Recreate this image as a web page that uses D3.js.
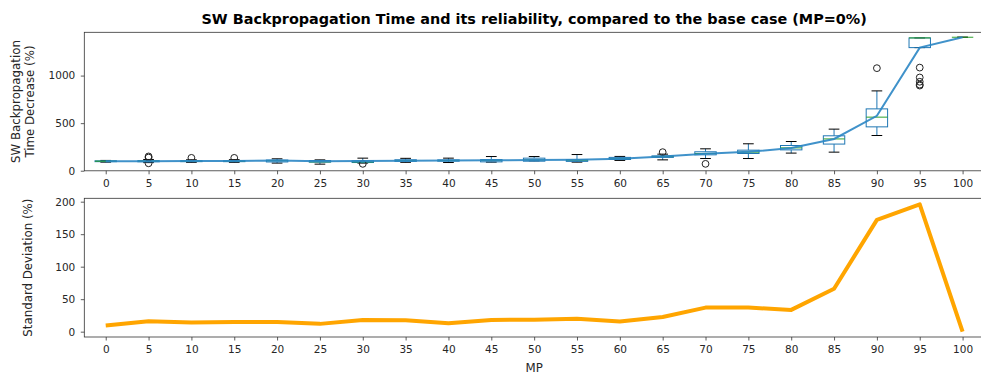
<!DOCTYPE html>
<html>
<head>
<meta charset="utf-8">
<script src="https://cdn.jsdelivr.net/npm/d3@7"></script>
<style>
  html, body { margin: 0; padding: 0; background: #fff; }
  svg { display: block; font-family: "DejaVu Sans", sans-serif; }
</style>
</head>
<body>
<svg id="chart" width="981" height="375"></svg>
<script>
// Missing-pixel percentage (MP) levels
const mp = [0, 5, 10, 15, 20, 25, 30, 35, 40, 45, 50, 55, 60, 65, 70, 75, 80, 85, 90, 95, 100];

// Box statistics of the time decrease (%) per MP level
const whiskerLow  = [90, 85, 88, 88, 80, 69, 80, 88, 86, 90, 104, 90, 108, 114, 128, 128, 185, 195, 370, 1294, 1403];
const q1          = [95, 94, 95, 95, 92, 90, 86, 98, 100, 93, 100, 98, 118, 140, 167, 181, 219, 280, 461, 1294, 1403];
const median      = [100, 100, 100, 100, 106, 93, 93, 107, 107, 107, 114, 110, 128, 149, 181, 195, 240, 334, 563, 1396, 1403];
const q3          = [104, 106, 105, 105, 112, 107, 104, 115, 114, 117, 132, 115, 140, 156, 199, 216, 265, 367, 650, 1396, 1403];
const whiskerHigh = [108, 118, 115, 116, 125, 114, 132, 130, 132, 149, 149, 170, 150, 174, 230, 283, 307, 437, 839, 1396, 1403];
const outliers    = [[], [150, 138, 78], [135], [135], [], [], [72], [], [], [], [], [], [], [195], [72], [], [], [], [1078], [1084, 980, 935, 905, 895], []];

// Mean time decrease (%) per MP level
const meanDecrease = [100, 100, 101, 102, 106, 99, 101, 105, 106, 110, 112, 115, 126, 150, 179, 198, 238, 334, 577, 1294, 1403];

// Standard deviation (%) per MP level
const stdDev = [9.5, 16, 14, 15, 15, 12, 18, 17.5, 13, 18, 18.5, 20, 15.5, 22.5, 37, 37, 33.5, 66, 172, 196, 0];

// Axis tick values
const topTicks = [0, 500, 1000];
const bottomTicks = [0, 50, 100, 150, 200];

const svg = d3.select("#chart");
const textColor = "#262626";
const spineColor = "#333";

const left = 84.3, right = 984;
const x = d3.scaleLinear().domain([0.5, mp.length + 0.5]).range([left, right]);
const step = x(2) - x(1);

const topPanel = { top: 32.3, bottom: 170.8 };
const botPanel = { top: 198.3, bottom: 337 };

const yTop = d3.scaleLinear().domain([-1, 1455]).range([topPanel.bottom, topPanel.top]);
const yBot = d3.scaleLinear().domain([-8.2, 205.2]).range([botPanel.bottom, botPanel.top]);

function styleAxis(g) {
  g.select(".domain").remove();
  g.selectAll(".tick line").attr("stroke", spineColor).attr("stroke-width", 0.8);
  g.selectAll(".tick text").attr("fill", textColor).attr("font-size", 10.5)
    .attr("font-family", "DejaVu Sans, sans-serif");
}

function drawFrame(panel) {
  svg.append("rect")
    .attr("x", left).attr("y", panel.top)
    .attr("width", right - left).attr("height", panel.bottom - panel.top)
    .attr("fill", "none").attr("stroke", spineColor).attr("stroke-width", 0.8);
}

function drawXAxis(panel) {
  const idx = mp.map((d, i) => i + 1);
  svg.append("g")
    .attr("transform", `translate(0,${panel.bottom})`)
    .call(d3.axisBottom(x).tickValues(idx).tickFormat(i => mp[i - 1]).tickSize(3.5).tickPadding(5))
    .call(styleAxis);
}

// ---------- Top panel: box plots with mean line ----------
svg.append("defs").append("clipPath").attr("id", "clipTop")
  .append("rect").attr("x", left).attr("y", topPanel.top)
  .attr("width", right - left).attr("height", topPanel.bottom - topPanel.top);

const boxW = step * 0.5;
const capW = boxW * 0.5;
const boxBlue = "#1f77b4";
const boxes = svg.append("g").attr("clip-path", "url(#clipTop)");

mp.forEach((m, i) => {
  const cx = x(i + 1);
  const g = boxes.append("g");
  // whiskers
  g.append("line").attr("x1", cx).attr("x2", cx)
    .attr("y1", yTop(q3[i])).attr("y2", yTop(whiskerHigh[i]))
    .attr("stroke", boxBlue).attr("stroke-width", 1);
  g.append("line").attr("x1", cx).attr("x2", cx)
    .attr("y1", yTop(q1[i])).attr("y2", yTop(whiskerLow[i]))
    .attr("stroke", boxBlue).attr("stroke-width", 1);
  // caps
  [whiskerHigh[i], whiskerLow[i]].forEach(v => {
    g.append("line").attr("x1", cx - capW / 2).attr("x2", cx + capW / 2)
      .attr("y1", yTop(v)).attr("y2", yTop(v))
      .attr("stroke", "#000").attr("stroke-width", 1);
  });
  // box
  g.append("rect")
    .attr("x", cx - boxW / 2).attr("y", yTop(q3[i]))
    .attr("width", boxW).attr("height", Math.max(0, yTop(q1[i]) - yTop(q3[i])))
    .attr("fill", "none").attr("stroke", boxBlue).attr("stroke-width", 1);
  // median
  g.append("line").attr("x1", cx - boxW / 2).attr("x2", cx + boxW / 2)
    .attr("y1", yTop(median[i])).attr("y2", yTop(median[i]))
    .attr("stroke", "#2ca02c").attr("stroke-width", 1);
  // fliers
  outliers[i].forEach(v => {
    g.append("circle").attr("cx", cx).attr("cy", yTop(v)).attr("r", 3.4)
      .attr("fill", "none").attr("stroke", "#222").attr("stroke-width", 1);
  });
});

// mean line
boxes.append("path")
  .datum(meanDecrease)
  .attr("d", d3.line().x((d, i) => x(i + 1)).y(d => yTop(d)))
  .attr("fill", "none").attr("stroke", "#2b86c4").attr("stroke-opacity", 0.9)
  .attr("stroke-width", 2);

drawFrame(topPanel);
drawXAxis(topPanel);
svg.append("g")
  .attr("transform", `translate(${left},0)`)
  .call(d3.axisLeft(yTop).tickValues(topTicks).tickFormat(d3.format("d")).tickSize(3.5).tickPadding(5.5))
  .call(styleAxis);

svg.append("text")
  .attr("transform", `translate(22,${(topPanel.top + topPanel.bottom) / 2}) rotate(-90)`)
  .attr("text-anchor", "middle").attr("fill", textColor).attr("font-size", 11.8)
  .selectAll("tspan").data(["SW Backpropagation", "Time Decrease (%)"]).join("tspan")
  .attr("x", 0).attr("dy", (d, i) => i === 0 ? "-0.15em" : "1.2em").text(d => d);

svg.append("text")
  .attr("x", (left + right) / 2).attr("y", 24)
  .attr("text-anchor", "middle").attr("fill", "#000")
  .attr("font-size", 14.4).attr("font-weight", "bold")
  .text("SW Backpropagation Time and its reliability, compared to the base case (MP=0%)");

// ---------- Bottom panel: standard deviation ----------
svg.append("path")
  .datum(stdDev)
  .attr("d", d3.line().x((d, i) => x(i + 1)).y(d => yBot(d)))
  .attr("fill", "none").attr("stroke", "orange").attr("stroke-width", 4)
  .attr("stroke-linejoin", "round");

drawFrame(botPanel);
drawXAxis(botPanel);
svg.append("g")
  .attr("transform", `translate(${left},0)`)
  .call(d3.axisLeft(yBot).tickValues(bottomTicks).tickSize(3.5).tickPadding(5.5))
  .call(styleAxis);

svg.append("text")
  .attr("transform", `translate(31.5,${(botPanel.top + botPanel.bottom) / 2}) rotate(-90)`)
  .attr("text-anchor", "middle").attr("fill", textColor).attr("font-size", 11.8)
  .text("Standard Deviation (%)");

svg.append("text")
  .attr("x", (left + right) / 2).attr("y", 372)
  .attr("text-anchor", "middle").attr("fill", textColor).attr("font-size", 11.8)
  .text("MP");
</script>
</body>
</html>
